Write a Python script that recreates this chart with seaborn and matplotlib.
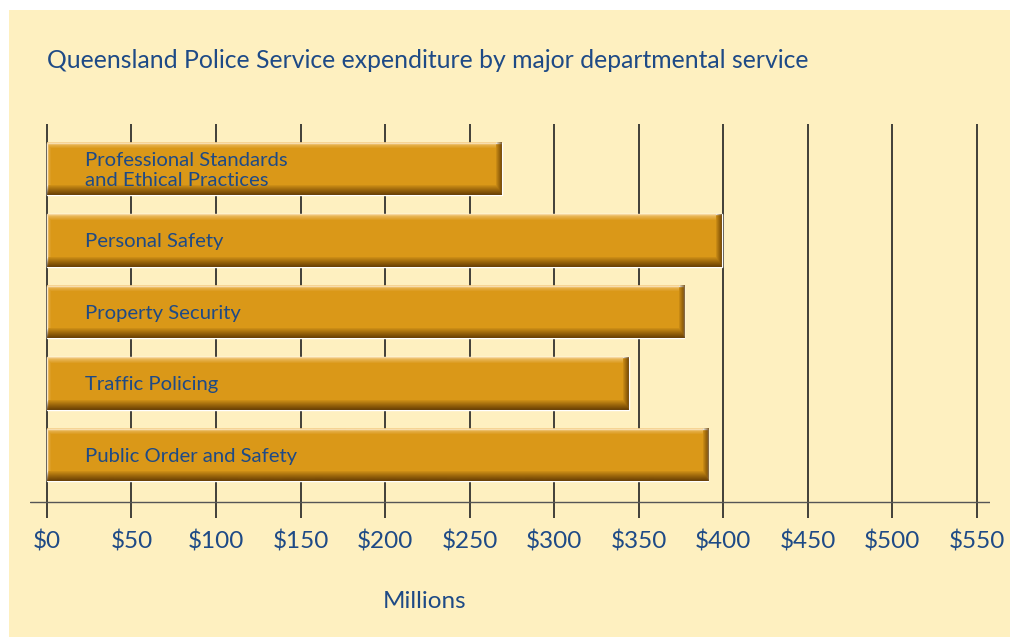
import matplotlib
matplotlib.use("Agg")
import matplotlib.pyplot as plt
import seaborn as sns
import numpy as np
import pandas as pd
from matplotlib.patches import Rectangle
from matplotlib.colors import to_rgb

# ---------------- data ----------------
categories = ["Professional Standards\nand Ethical Practices", "Personal Safety",
              "Property Security", "Traffic Policing", "Public Order and Safety"]
values = [269, 399, 377, 344, 391]
tick_values = list(range(0, 551, 50))
tick_labels = [f"${v}" for v in tick_values]
title = "Queensland Police Service expenditure by major departmental service"
xlabel = "Millions"

# ---------------- style ----------------
BG = "#FEF0C0"
BAR = "#DA9818"
TXT = "#1E4A86"
GRID = "#222222"
SHADOW = "#5A3300"
HILITE = "#F4CD86"

sns.set_theme(style="white")
plt.rcParams['font.family'] = ['Lato', 'DejaVu Sans']

W, H = 1010, 637
fig = plt.figure(figsize=(W / 100, H / 100), dpi=100)
fig.patch.set_facecolor('white')
fig.patches.append(Rectangle((9 / W, 0), 1 - 9 / W, 1 - 10 / H, transform=fig.transFigure,
                             facecolor=BG, edgecolor='none', zorder=-10))

ax = fig.add_axes([30 / W, (H - 518) / H, 960 / W, 394 / H])
ax.set_facecolor('none')

df = pd.DataFrame({"service": categories, "value": values})
sns.barplot(data=df, y="service", x="value", orient="h", color=BAR, width=0.74,
            saturation=1, ax=ax, zorder=3, order=categories)

XLIM = (-10, 557.7)
YLIM = (4.881, -0.629)
ax.set_xlim(*XLIM)
ax.set_ylim(*YLIM)

# grid lines and baseline
ax.vlines(tick_values, YLIM[1], YLIM[0], color=GRID, lw=1.2, zorder=1)
ax.axhline(4.657, color="#555555", lw=1.0, zorder=2)

for s in ax.spines.values():
    s.set_visible(False)
ax.set_xticks(tick_values)
ax.set_xticklabels(tick_labels)
ax.set_yticks([])
ax.set_xlabel('')
ax.set_ylabel('')
ax.tick_params(axis='x', length=0, pad=9, labelsize=17.5, labelcolor=TXT)

# bevel overlays for each bar
sh = np.array(to_rgb(SHADOW))
hl = np.array(to_rgb(HILITE))
for p in ax.patches:
    x0, y0, w, h = p.get_x(), p.get_y(), p.get_width(), p.get_height()
    (px0, py0), (px1, py1) = ax.transData.transform([(x0, y0), (x0 + w, y0 + h)])
    wpx = max(int(round(abs(px1 - px0))), 2)
    hpx = max(int(round(abs(py1 - py0))), 2)
    img = np.zeros((hpx, wpx, 4))
    rows = np.arange(hpx)[:, None] * np.ones((1, wpx))
    cols = np.ones((hpx, 1)) * np.arange(wpx)[None, :]
    nb, nr, nt, nl = 11.0, 7.0, 6.0, 4.0
    a_bot = np.clip((rows - (hpx - nb)) / nb, 0, 1) ** 0.9 * 0.95
    a_right = np.clip((cols - (wpx - nr)) / nr, 0, 1) ** 0.9 * 0.85
    a_sh = np.maximum(a_bot, a_right)
    a_top = np.clip((nt - rows) / nt, 0, 1) * 0.8
    a_left = np.clip((nl - cols) / nl, 0, 1) * 0.45
    a_hl = np.maximum(a_top, a_left) * (a_sh == 0)
    img[..., :3] = np.where((a_sh > 0)[..., None], sh, hl)
    img[..., 3] = np.maximum(a_sh, a_hl)
    ax.imshow(img, extent=(x0, x0 + w, y0 + h, y0), origin='upper', aspect='auto',
              zorder=4, interpolation='bilinear')

ax.set_xlim(*XLIM)
ax.set_ylim(*YLIM)
ax.set_aspect('auto')

# bar labels
for p, cat in zip(ax.patches, categories):
    ax.text(22.5, p.get_y() + p.get_height() / 2 + 0.02, cat, va='center', ha='left',
            fontsize=14.6, color=TXT, linespacing=1.22, zorder=6)

fig.text(47 / W, 1 - 68 / H, title, fontsize=17.8, color=TXT, va='baseline', ha='left')
fig.text(425 / W, 1 - 601 / H, xlabel, fontsize=17.5, color=TXT, va='center', ha='center')

fig.savefig('out.png', dpi=100, facecolor=fig.get_facecolor())
